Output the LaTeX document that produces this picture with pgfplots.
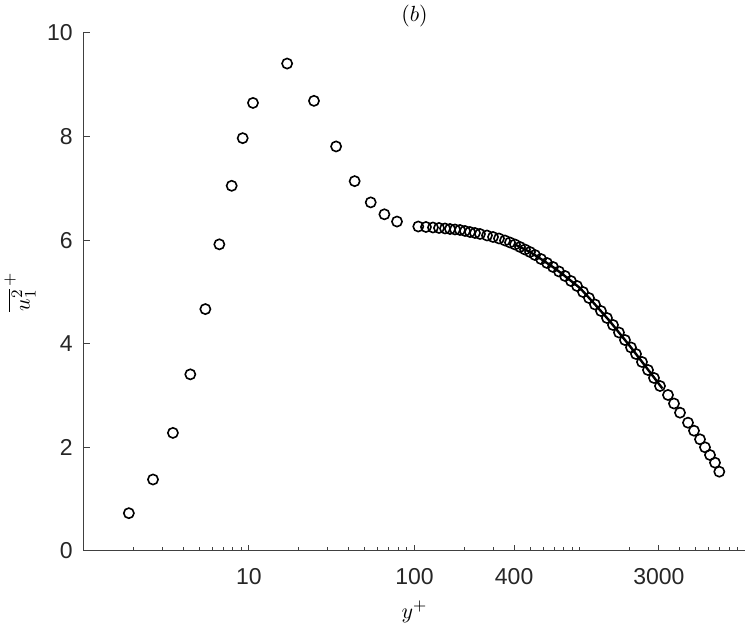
\documentclass[border=0pt]{standalone}
\usepackage[no-math]{fontspec}
\usepackage{pgfplots}
\usepackage{pgfplotstable}
\pgfplotsset{compat=1.18}
\usetikzlibrary{calc}
\newfontfamily\ticksfont{Liberation Sans}
\definecolor{axgray}{gray}{0.25}

\pgfplotstableread{
x y
1.88 0.73
2.63 1.38
3.47 2.28
4.42 3.41
5.45 4.67
6.62 5.92
7.86 7.05
9.16 7.97
10.57 8.65
17.0 9.41
24.7 8.69
33.6 7.81
43.5 7.14
54.4 6.73
65.8 6.50
78.4 6.36
105.4 6.264
117.3 6.255
129.3 6.245
140.6 6.236
152.9 6.226
163.9 6.216
175.7 6.207
188.3 6.197
201.9 6.178
216.4 6.158
232.0 6.139
248.7 6.120
274.2 6.091
298.1 6.062
324.0 6.033
352.2 5.994
377.6 5.956
404.9 5.917
434.1 5.869
465.3 5.820
498.9 5.772
534.8 5.714
581.3 5.637
631.8 5.560
686.9 5.483
746.6 5.396
811.6 5.309
882.2 5.212
959.2 5.116
1042.5 5.000
1133.4 4.884
1231.7 4.759
1339.1 4.633
1455.7 4.498
1582.6 4.363
1720.2 4.218
1870.3 4.073
2033.3 3.929
2180 3.803
2369 3.649
2576 3.494
2800 3.340
3044 3.185
3402 3.012
3698 2.847
4020 2.670
4494 2.477
4885 2.322
5311 2.156
5692 2.002
6103 1.853
6543 1.705
6946 1.531
}\dns

\pgfplotstableread{
x y
400 5.925
500 5.770
600 5.608
700 5.463
800 5.322
1000 5.077
1200 4.801
1500 4.452
2000 3.958
2500 3.556
3000 3.224
3150 3.137
}\fit

\begin{document}
\begin{tikzpicture}
\begin{axis}[
  scale only axis,
  width=331pt, height=259pt,
  xmode=log,
  xmin=1, xmax=10000,
  ymin=0, ymax=10,
  axis lines*=left,
  axis line style={axgray, line width=0.5pt},
  tick style={axgray, line width=0.5pt},
  tick align=inside,
  major tick length=3.2pt,
  minor tick length=1.8pt,
  xtick={10,100,400,3000},
  xticklabels={10,100,400,3000},
  minor xtick={2,3,4,5,6,7,8,9,20,30,40,50,60,70,80,90,200,300,500,600,700,800,900,1000,2000,4000,5000,6000,7000,8000,9000},
  ytick={0,2,4,6,8,10},
  yticklabels={0,2,4,6,8,10},
  tick label style={font=\ticksfont\fontsize{11.5}{13}\selectfont, text=black!85},
  xticklabel style={anchor=center, yshift=-12.75pt},
  yticklabel style={xshift=-1.9pt},
  xlabel={$y^+$},
  ylabel={$\overline{u_1^2}^{\,+}$},
  label style={font=\fontsize{11}{13}\selectfont},
  xlabel style={at={(axis description cs:0.5,0)}, anchor=center, yshift=-30.25pt},
  ylabel style={at={(axis description cs:-0.0959,0.5)}, anchor=center},
  title={$(b)$},
  title style={font=\fontsize{10.5}{12}\selectfont, at={(axis description cs:0.5,1)}, anchor=center, yshift=2.5pt},
  clip=false,
]
\addplot[only marks, mark=o, mark size=2.55pt, mark options={black, line width=0.8pt}] table[x=x,y=y] {\dns};
\addplot[black, line width=1.2pt, no marks] table[x=x,y=y] {\fit};
\coordinate (ll) at (rel axis cs:0,0);
\coordinate (ur) at (rel axis cs:1,1);
\end{axis}
\pgfresetboundingbox
\path[use as bounding box] ($(ll)+(-41.75pt,-37pt)$) rectangle ($(ur)+(0.75pt,16.5pt)$);
\end{tikzpicture}
\end{document}
